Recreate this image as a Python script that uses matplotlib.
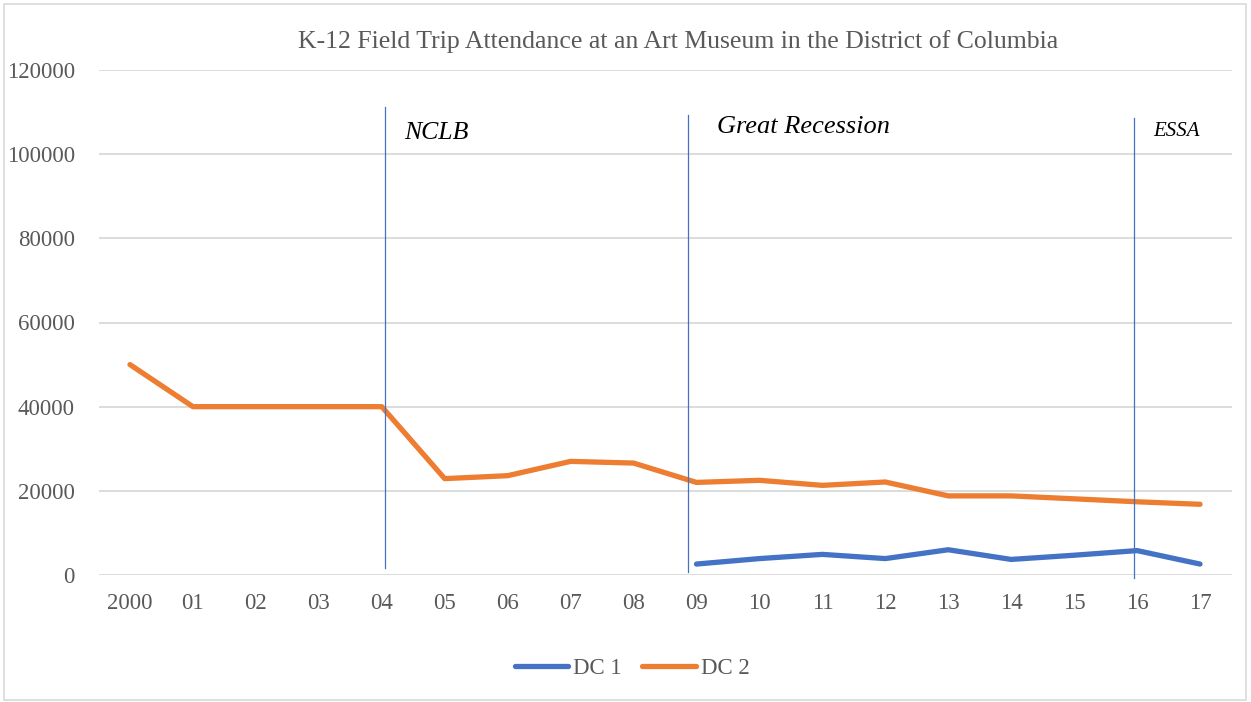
import matplotlib
matplotlib.use("Agg")
import matplotlib.pyplot as plt
from matplotlib.patches import Rectangle

years = ["2000", "01", "02", "03", "04", "05", "06", "07", "08",
         "09", "10", "11", "12", "13", "14", "15", "16", "17"]
dc2 = [50000, 40000, 40000, 40000, 40000, 22900, 23600, 27000, 26600,
       22000, 22500, 21300, 22100, 18800, 18800, 18100, 17400, 16800]
dc1_years = ["09", "10", "11", "12", "13", "14", "15", "16", "17"]
dc1 = [2600, 3900, 4900, 3900, 6000, 3700, 4700, 5800, 2600]

events = ["NCLB", "Great Recession", "ESSA"]
event_x = [4.05, 8.86, 15.95]
event_top = [111200, 109300, 108600]
event_bottom = [1600, 700, -700]

plt.rcParams['font.family'] = ['Liberation Serif', 'DejaVu Serif']
gray = "#595959"

fig = plt.figure(figsize=(12.51, 7.02), dpi=100)
fig.patches.append(Rectangle((4/1251, 2/702), 1242/1251, 696/702, transform=fig.transFigure,
                             fill=False, edgecolor="#d9d9d9", linewidth=1.2))
ax = fig.add_axes([98.5/1251, 127/702, 1133/1251, 505/702])

xpos = list(range(len(years)))
idx = {y: i for i, y in enumerate(years)}
ax.plot(xpos, dc2, color="#ED7D31", lw=3.8, solid_capstyle="round", solid_joinstyle="round", label="DC 2", zorder=3)
ax.plot([idx[y] for y in dc1_years], dc1, color="#4472C4", lw=3.8, solid_capstyle="round",
        solid_joinstyle="round", label="DC 1", zorder=3)

for name, x, t, b in zip(events, event_x, event_top, event_bottom):
    ax.plot([x, x], [b, t], color="#4472C4", lw=0.9, zorder=4, clip_on=False)

ax.text(4.35, 105000, "NCLB", fontstyle="italic", fontsize=18.5, color="black", va="center", ha="left")
ax.text(9.32, 106400, "Great Recession", fontstyle="italic", fontsize=19, color="black", va="center", ha="left")
ax.text(16.25, 105500, "ESSA", fontstyle="italic", fontsize=15, color="black", va="center", ha="left")

ax.set_xlim(-0.5, len(years) - 0.5)
ax.set_ylim(0, 120000)
ax.set_yticks(range(0, 120001, 20000))
ax.set_xticks(xpos)
ax.set_xticklabels(years)
ax.yaxis.grid(True, color="#d9d9d9", lw=1.3)
ax.set_axisbelow(True)
for s in ax.spines.values():
    s.set_visible(False)
ax.tick_params(axis="both", length=0, labelsize=16.5, colors=gray)
ax.tick_params(axis="y", pad=17)
ax.tick_params(axis="x", pad=13)

fig.text(678/1251, 1 - 42/702, "K-12 Field Trip Attendance at an Art Museum in the District of Columbia",
         ha="center", va="center", fontsize=18.5, color=gray)

handles, labels = ax.get_legend_handles_labels()
leg = fig.legend([handles[1], handles[0]], [labels[1], labels[0]], loc="center",
                 bbox_to_anchor=(632/1251, 1 - 668/702), ncol=2, frameon=False,
                 fontsize=16.5, handlelength=2.35, handletextpad=0.2, columnspacing=0.9)
for t in leg.get_texts():
    t.set_color(gray)

fig.savefig("out.png", dpi=100)
